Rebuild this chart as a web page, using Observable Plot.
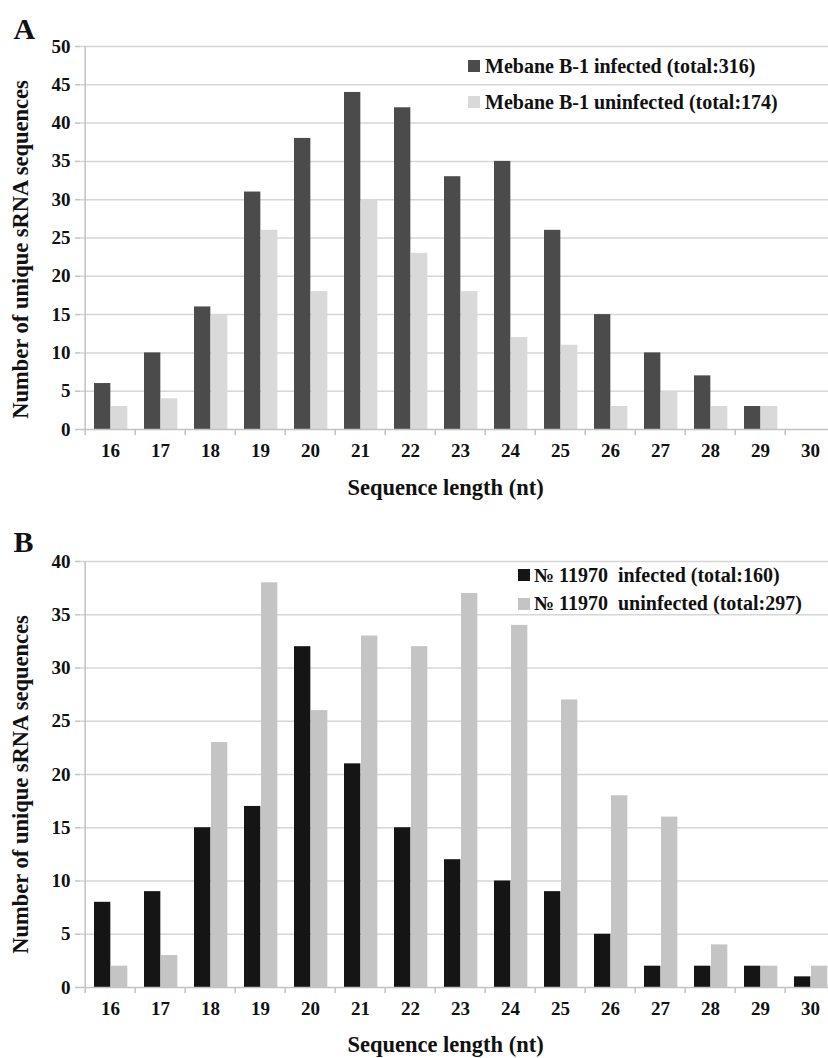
<!DOCTYPE html>
<html>
<head>
<meta charset="utf-8">
<script src="https://cdn.jsdelivr.net/npm/d3@7"></script>
<script src="https://cdn.jsdelivr.net/npm/@observablehq/plot@0.6"></script>
<style>
  html, body { margin: 0; padding: 0; background: #fff; }
  #wrap { position: relative; width: 828px; height: 1058px; overflow: hidden; background: #fff; }
  #wrap svg { display: block; max-width: none !important; }
  .panel { position: absolute; left: 0; }
  .sw { position: absolute; width: 12px; height: 12px; }
  .lt { position: absolute; font-family: "Liberation Serif", "Times New Roman", serif; font-weight: bold;
        font-size: 20px; line-height: 20px; color: #111; white-space: pre; }
</style>
</head>
<body>
<div id="wrap"></div>
<script>
// ---- data ----
const lengths = [16, 17, 18, 19, 20, 21, 22, 23, 24, 25, 26, 27, 28, 29, 30];

const infectedA   = [6, 10, 16, 31, 38, 44, 42, 33, 35, 26, 15, 10, 7, 3, 0];
const uninfectedA = [3, 4, 15, 26, 18, 30, 23, 18, 12, 11, 3, 5, 3, 3, 0];
const legendA = ["Mebane B-1 infected (total:316)", "Mebane B-1 uninfected (total:174)"];
const yTicksA = [0, 5, 10, 15, 20, 25, 30, 35, 40, 45, 50];

const infectedB   = [8, 9, 15, 17, 32, 21, 15, 12, 10, 9, 5, 2, 2, 2, 1];
const uninfectedB = [2, 3, 23, 38, 26, 33, 32, 37, 34, 27, 18, 16, 4, 2, 2];
const legendB = ["№ 11970  infected (total:160)", "№ 11970  uninfected (total:297)"];
const yTicksB = [0, 5, 10, 15, 20, 25, 30, 35, 40];

const xTitle = "Sequence length (nt)";
const yTitle = "Number of unique sRNA sequences";

// ---- drawing ----
const FONT = "'Liberation Serif', 'Times New Roman', serif";
const W = 840, ML = 80, MR = 0;
const half = (W - ML - MR) / lengths.length / 2;
const gridColor = "#d6d6d6", axisColor = "#c2c2c2";

function panel({letter, inf, uninf, colors, yTicks, height, marginTop, marginBottom,
                letterDy, titleDy, ylabDy}) {
  const rows = lengths.map((len, i) => ({len, inf: inf[i], uninf: uninf[i]}));
  const yMax = yTicks[yTicks.length - 1];
  return Plot.plot({
    width: W, height, marginLeft: ML, marginRight: MR, marginTop, marginBottom,
    style: {fontFamily: FONT, fontWeight: "bold", color: "#111", background: "white", maxWidth: "none"},
    x: {type: "band", domain: lengths, padding: 0, axis: null},
    y: {domain: [0, yMax], axis: null},
    marks: [
      Plot.ruleY(yTicks.filter(v => v > 0), {stroke: gridColor, strokeWidth: 1.5}),
      Plot.barY(rows, {x: "len", y: "inf", fill: colors[0], insetLeft: 9, insetRight: 2 * half - 26}),
      Plot.barY(rows, {x: "len", y: "uninf", fill: colors[1], insetLeft: 26, insetRight: 2 * half - 43}),
      Plot.ruleY([0], {stroke: axisColor, strokeWidth: 1.5}),
      Plot.ruleX([lengths[0]], {y1: 0, y2: yMax, dx: -half, stroke: axisColor, strokeWidth: 1.5}),
      Plot.axisX({tickSize: 6, tickFormat: () => "", dx: -half, stroke: axisColor, strokeWidth: 1.5, label: null}),
      Plot.axisX({tickSize: 0, tickPadding: 14, fontSize: 19, label: null}),
      Plot.axisY({ticks: yTicks, tickSize: 5, tickPadding: 5, fontSize: 19, stroke: axisColor, strokeWidth: 1.5, label: null}),
      Plot.text([yTitle], {text: d => d, frameAnchor: "left", textAnchor: "middle", rotate: -90, dx: -60, dy: ylabDy,
                           fontSize: 22.5, lineAnchor: "middle"}),
      Plot.text([xTitle], {text: d => d, frameAnchor: "bottom", textAnchor: "middle", lineAnchor: "bottom",
                           dx: -15, dy: titleDy, fontSize: 22.5}),
      Plot.text([letter], {text: d => d, frameAnchor: "top-left", textAnchor: "start", lineAnchor: "bottom",
                           dx: -67, dy: letterDy, fontSize: 30})
    ]
  });
}

const wrap = document.getElementById("wrap");

function addPanel(svg, top) {
  const d = document.createElement("div");
  d.className = "panel";
  d.style.top = top + "px";
  d.appendChild(svg);
  wrap.appendChild(d);
}

function addLegend(labels, colors, items) {
  labels.forEach((lab, i) => {
    const it = items[i];
    const s = document.createElement("div");
    s.className = "sw";
    s.style.left = it.sx + "px"; s.style.top = it.sy + "px"; s.style.background = colors[i];
    wrap.appendChild(s);
    const t = document.createElement("div");
    t.className = "lt";
    t.style.left = it.tx + "px"; t.style.top = it.ty + "px";
    t.textContent = lab;
    wrap.appendChild(t);
  });
}

const colorsA = ["#4b4b4b", "#d9d9d9"];
const colorsB = ["#151515", "#c4c4c4"];

addPanel(panel({letter: "A", inf: infectedA, uninf: uninfectedA, colors: colorsA, yTicks: yTicksA,
                height: 510, marginTop: 46, marginBottom: 81, letterDy: -8, titleDy: 65, ylabDy: 11.5}), 0);
addPanel(panel({letter: "B", inf: infectedB, uninf: uninfectedB, colors: colorsB, yTicks: yTicksB,
                height: 548, marginTop: 51, marginBottom: 71, letterDy: -9.3, titleDy: 64, ylabDy: 10}), 510);

addLegend(legendA, colorsA, [
  {sx: 468, sy: 60, tx: 485, ty: 56},
  {sx: 468, sy: 96, tx: 485, ty: 92}
]);
addLegend(legendB, colorsB, [
  {sx: 518, sy: 569, tx: 534, ty: 565},
  {sx: 518, sy: 598, tx: 534, ty: 593}
]);
</script>
</body>
</html>
